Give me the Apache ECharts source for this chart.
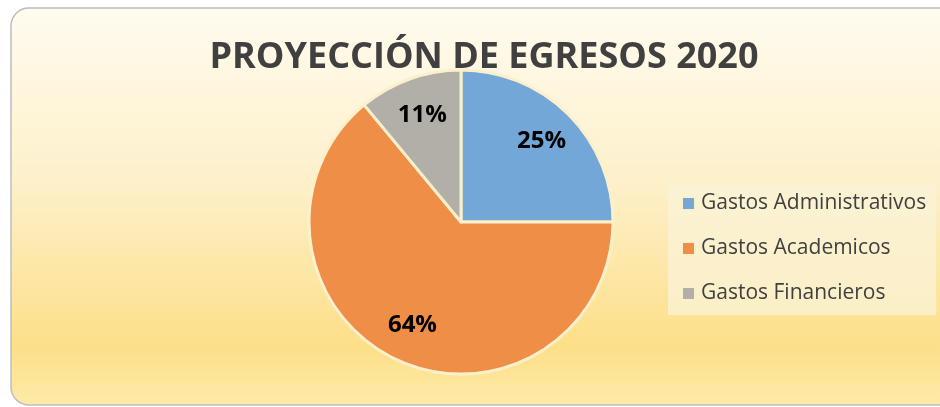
<!DOCTYPE html>
<html lang="es">
<head>
    <meta charset="utf-8">
    <title>Proyección de egresos 2020</title>
    <script src="https://cdn.jsdelivr.net/npm/echarts@6/dist/echarts.min.js"></script>
    <style>
        html, body { margin: 0; padding: 0; background: #ffffff; }
        #chart { width: 940px; height: 407px; }
    </style>
</head>
<body>
    <div id="chart"></div>
    <script>
        // datos del grafico
        const categorias = ['Gastos Administrativos', 'Gastos Academicos', 'Gastos Financieros'];
        const valores = [25, 64, 11];
        const colores = ['#72a7d7', '#ef8e46', '#b2afa8'];

        const chart = echarts.init(document.getElementById('chart'));

        const datos = categorias.map(function (c, i) {
            return { name: c, value: valores[i], itemStyle: { color: colores[i] } };
        });
        // serie invisible solo para colocar las etiquetas mas afuera
        const etiquetas = categorias.map(function (c, i) {
            return { name: c, value: valores[i] };
        });

        const option = {
            animation: false,
            graphic: [{
                type: 'rect',
                silent: true,
                z: -10,
                shape: { x: 11, y: 8, width: 960, height: 397, r: 18 },
                style: {
                    fill: new echarts.graphic.LinearGradient(0, 0, 0, 1, [
                        { offset: 0, color: '#fffbef' },
                        { offset: 0.45, color: '#fdf0c9' },
                        { offset: 0.85, color: '#fddf88' },
                        { offset: 1, color: '#feeaa9' }
                    ]),
                    stroke: '#bdbdbd',
                    lineWidth: 1.5
                }
            }],
            title: {
                text: 'PROYECCIÓN DE EGRESOS 2020',
                left: 479,
                top: 35,
                textAlign: 'center',
                textStyle: {
                    fontFamily: 'Open Sans',
                    fontWeight: 'bold',
                    fontSize: 36,
                    color: '#404040'
                }
            },
            legend: {
                orient: 'vertical',
                left: 668,
                top: 182,
                padding: [11, 10, 11, 13],
                itemGap: 24,
                itemWidth: 13,
                itemHeight: 13,
                backgroundColor: 'rgba(250, 243, 215, 0.75)',
                icon: 'rect',
                data: categorias,
                textStyle: {
                    fontFamily: 'Open Sans',
                    fontSize: 21,
                    color: '#404040',
                    padding: [0, 0, 0, 1]
                }
            },
            series: [{
                type: 'pie',
                center: [461, 222],
                radius: [0, 152],
                startAngle: 90,
                clockwise: true,
                label: { show: false },
                labelLine: { show: false },
                itemStyle: { borderColor: '#fcf0cc', borderWidth: 3 },
                emphasis: { disabled: true },
                data: datos
            }, {
                type: 'pie',
                center: [461, 222],
                radius: [0, 222],
                startAngle: 90,
                clockwise: true,
                silent: true,
                legendHoverLink: false,
                itemStyle: { color: 'rgba(0,0,0,0)' },
                labelLine: { show: false },
                label: {
                    show: true,
                    position: 'inside',
                    formatter: '{d}%',
                    fontFamily: 'Open Sans',
                    fontWeight: 'bold',
                    fontSize: 24,
                    color: '#000000'
                },
                data: etiquetas
            }]
        };

        chart.setOption(option);
    </script>
</body>
</html>
